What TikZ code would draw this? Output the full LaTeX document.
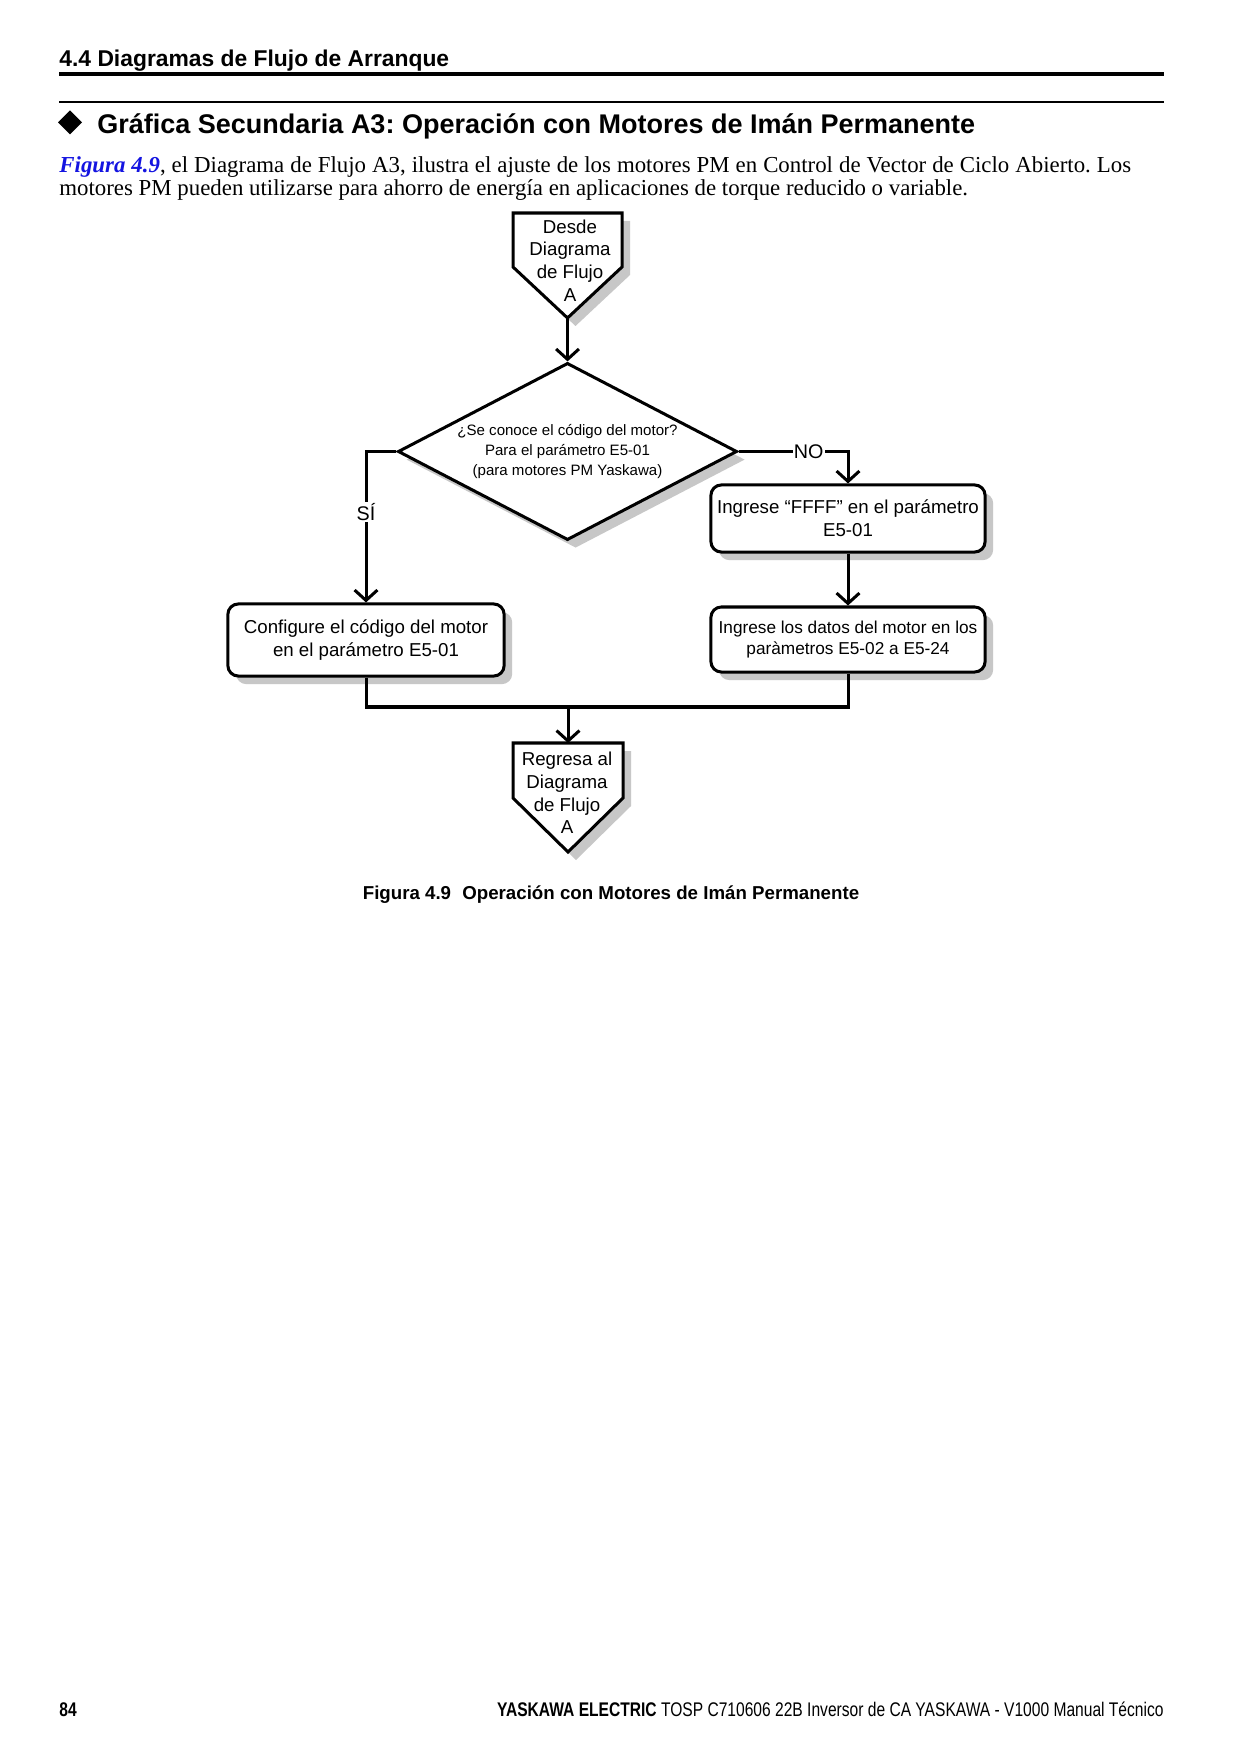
\documentclass[tikz,border=0pt]{standalone}
\usepackage{fontspec}
\setmainfont{Liberation Serif}
\setsansfont{Liberation Sans}
\newfontfamily\narrowsans[FakeStretch=0.79]{Liberation Sans}
\usetikzlibrary{arrows.meta,shapes.geometric,shadows}
\definecolor{figblue}{RGB}{20,20,225}
\begin{document}
\frenchspacing
\begin{tikzpicture}[x=0.16922mm,y=-0.16922mm,
  shadowfill/.style={fill=black!22, draw=none},
  myshadow/.style={drop shadow={shadow xshift=3.9pt, shadow yshift=-3.9pt, fill=black!22, opacity=1}},
  boxtxt/.style={font=\sffamily\fontsize{9}{10.9}\selectfont, align=center},
  procbox/.style={boxtxt, draw, line width=1.45pt, rounded corners=5pt, fill=white, inner sep=0pt, myshadow},
  decbox/.style={diamond, aspect=1.915, draw, line width=1.45pt, fill=white, inner sep=0pt, myshadow,
     font=\sffamily\fontsize{7.25}{9.6}\selectfont, align=center,
     minimum width=163.3pt, minimum height=85.3pt},
  pentline/.style={draw, line width=1.45pt, fill=white, line join=miter},
  conn/.style={line width=1.45pt},
  arr/.style={conn, -{Straight Barb[length=5pt,width=11pt,line width=1.45pt]}},
  lbl/.style={font=\sffamily\fontsize{9.5}{11}\selectfont, fill=white, inner sep=0.6pt}
]
\useasboundingbox (0,0) rectangle (1241,1754);
\fill[white] (0,0) rectangle (1241,1754);

% header
\node[anchor=base west, inner sep=0, font=\sffamily\bfseries\fontsize{11}{13}\selectfont] (hdr) at (59,67) {4.4 Diagramas de Flujo de Arranque};
\draw[line width=2.2pt] (59,74) -- (1164,74);
\draw[line width=0.7pt] (59,102) -- (1164,102);
\fill (70,110.5) -- (82,122.5) -- (70,134.5) -- (58,122.5) -- cycle;
\node[anchor=base west, inner sep=0, font=\sffamily\bfseries\fontsize{13}{15}\selectfont] (ttl) at (97,134) {Gráfica Secundaria A3: Operación con Motores de Imán Permanente};

% body text
\node[anchor=base west, inner sep=0, font=\fontsize{11}{13}\selectfont] (p1) at (59,172.5) {\makebox[516pt][s]{\textcolor{figblue}{\textbf{\textit{Figura 4.9}}}, el Diagrama de Flujo A3, ilustra el ajuste de los motores PM en Control de Vector de Ciclo Abierto. Los}};
\node[anchor=base west, inner sep=0, font=\fontsize{11}{13}\selectfont] (p2) at (59,196) {motores PM pueden utilizarse para ahorro de energía en aplicaciones de torque reducido o variable.};

% start pentagon
\fill[shadowfill] (521,221) -- (630,221) -- (630,275) -- (575.5,326) -- (521,275) -- cycle;
\path[pentline] (513,213) -- (622,213) -- (622,267) -- (567.5,318) -- (513,267) -- cycle;
\coordinate (starttip) at (567.5,318);
\node[boxtxt, inner sep=0] (start) at (570,260.5) {Desde\\Diagrama\\de Flujo\\A};

% decision
\node[decbox] (q) at (567.5,451.5) {¿Se conoce el código del motor?\\Para el parámetro E5-01\\(para motores PM Yaskawa)};

% process boxes
\node[procbox, minimum width=132pt, minimum height=32.3pt] (ffff) at (848,518.5) {Ingrese “FFFF” en el parámetro\\E5-01};
\node[procbox, minimum width=132pt, minimum height=31.3pt, font=\sffamily\fontsize{8.3}{10.4}\selectfont] (data) at (848,639.5) {Ingrese los datos del motor en los\\paràmetros E5-02 a E5-24};
\node[procbox, minimum width=133pt, minimum height=34.7pt] (cfg) at (366,640) {Configure el código del motor\\en el parámetro E5-01};

% end pentagon
\fill[shadowfill] (521,751) -- (631,751) -- (631,806) -- (576,860) -- (521,806) -- cycle;
\path[pentline] (513,743) -- (623,743) -- (623,798) -- (568,852) -- (513,798) -- cycle;
\coordinate (endtop) at (568,743);
\node[boxtxt, inner sep=0] (end) at (567,793) {Regresa al\\Diagrama\\de Flujo\\A};

% connectors
\draw[arr] (starttip) -- (q.north);
\draw[arr] (q.east) -| node[lbl, pos=0.32] {NO} (ffff.north);
\draw[arr] (q.west) -| node[lbl, pos=0.70] {SÍ} (cfg.north);
\draw[arr] (ffff.south) -- (data.north);
\coordinate (join) at (568,707);
\draw[conn] (cfg.south) |- (join) -| (data.south);
\draw[arr] (join) -- (endtop);

% caption
\node[anchor=base, inner sep=0, font=\sffamily\bfseries\fontsize{9}{11}\selectfont] (cap) at (611,899) {Figura 4.9\hspace{0.6em}Operación con Motores de Imán Permanente};

% footer
\node[anchor=base west, inner sep=0, font=\narrowsans\bfseries\fontsize{9.5}{11}\selectfont] (pg) at (59,1716) {84};
\node[anchor=base east, inner sep=0, font=\narrowsans\fontsize{9.5}{11}\selectfont] (ft) at (1164,1716) {\textbf{YASKAWA ELECTRIC} TOSP C710606 22B Inversor de CA YASKAWA - V1000 Manual Técnico};
\end{tikzpicture}
\end{document}
